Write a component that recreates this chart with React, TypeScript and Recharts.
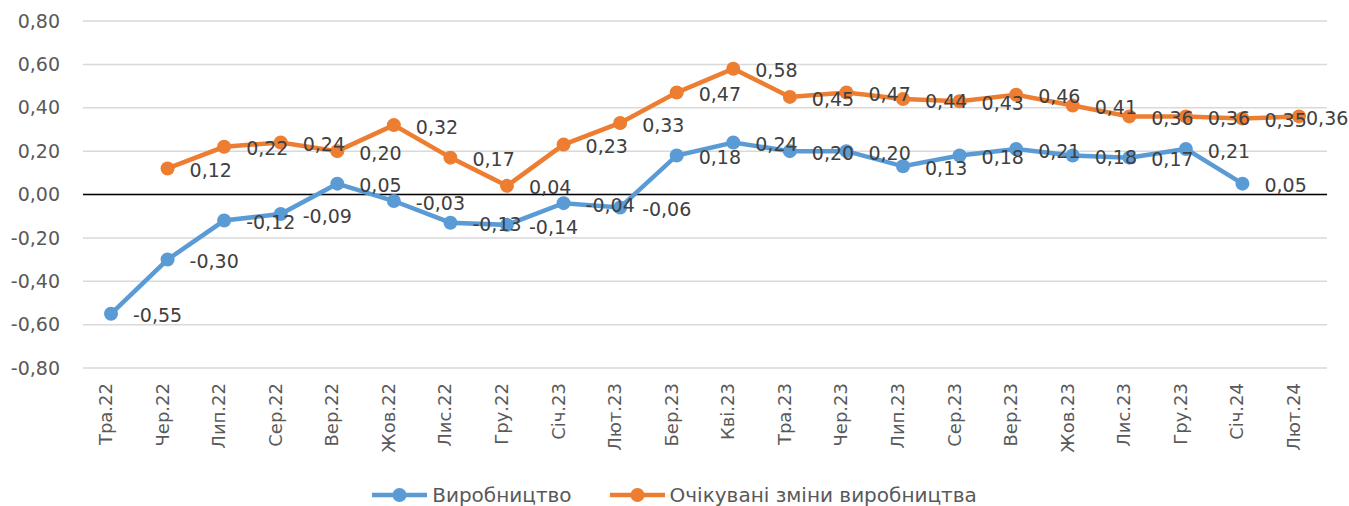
import React from "react";
import {
  CartesianGrid,
  LabelList,
  Line,
  LineChart,
  ReferenceLine,
  XAxis,
  YAxis,
} from "recharts";

const months = [
  "Тра.22", "Чер.22", "Лип.22", "Сер.22", "Вер.22", "Жов.22", "Лис.22", "Гру.22",
  "Січ.23", "Лют.23", "Бер.23", "Кві.23", "Тра.23", "Чер.23", "Лип.23", "Сер.23",
  "Вер.23", "Жов.23", "Лис.23", "Гру.23", "Січ.24", "Лют.24",
];

const production = [
  -0.55, -0.3, -0.12, -0.09, 0.05, -0.03, -0.13, -0.14, -0.04, -0.06, 0.18,
  0.24, 0.2, 0.2, 0.13, 0.18, 0.21, 0.18, 0.17, 0.21, 0.05, null,
];

const expected = [
  null, 0.12, 0.22, 0.24, 0.2, 0.32, 0.17, 0.04, 0.23, 0.33, 0.47,
  0.58, 0.45, 0.47, 0.44, 0.43, 0.46, 0.41, 0.36, 0.36, 0.35, 0.36,
];

const yTicks = [-0.8, -0.6, -0.4, -0.2, 0, 0.2, 0.4, 0.6, 0.8];

const BLUE = "#5B9BD5";
const ORANGE = "#ED7D31";
const FONT = "'DejaVu Sans', sans-serif";
const W = 1349;
const H = 506;

const data = months.map((m, i) => ({
  month: m,
  production: production[i],
  expected: expected[i],
}));

const fmt = (v: number) => v.toFixed(2).replace(".", ",");

function DataLabel(props: any) {
  const { value } = props;
  if (value === null || value === undefined) return null;
  const vb = props.viewBox || {};
  const px = Number(props.x ?? vb.x);
  const py = Number(props.y ?? vb.y);
  // keep the last label inside the picture, like Excel does
  const x = Math.min(px + 22, W - 43);
  return (
    <text
      x={x}
      y={py + 2}
      dy="0.35em"
      textAnchor="start"
      fontFamily={FONT}
      fontSize={19}
      fill="#404040"
    >
      {fmt(Number(value))}
    </text>
  );
}

function MonthTick({ x, y, payload }: any) {
  return (
    <text
      x={x}
      y={y + 7}
      dy={1}
      transform={`rotate(-90, ${x}, ${y + 7})`}
      textAnchor="end"
      fontFamily={FONT}
      fontSize={18}
      fill="#595959"
    >
      {payload.value}
    </text>
  );
}

function LegendItem({ color, label }: { color: string; label: string }) {
  return (
    <div style={{ display: "flex", alignItems: "center" }}>
      <svg width={55} height={20} style={{ marginRight: 5 }}>
        <line x1={0} y1={10} x2={55} y2={10} stroke={color} strokeWidth={4.5} />
        <circle cx={27.5} cy={10} r={7} fill={color} />
      </svg>
      <span>{label}</span>
    </div>
  );
}

export default function App() {
  return (
    <div
      style={{
        position: "absolute",
        left: 0,
        top: 0,
        width: W,
        height: H,
        background: "#fff",
      }}
    >
      <LineChart
        width={W}
        height={H}
        data={data}
        margin={{ top: 21, right: 22, left: 0, bottom: 21 }}
      >
        <CartesianGrid vertical={false} stroke="#d9d9d9" strokeWidth={1.5} />
        <XAxis
          dataKey="month"
          height={117}
          interval={0}
          padding={{ left: 28, right: 28 }}
          axisLine={false}
          tickLine={false}
          tick={<MonthTick />}
        />
        <YAxis
          width={83}
          domain={[-0.8, 0.8]}
          ticks={yTicks}
          axisLine={false}
          tickLine={false}
          tickMargin={17}
          tickFormatter={fmt}
          tick={{ fontFamily: FONT, fontSize: 19, fill: "#595959" }}
        />
        <ReferenceLine y={0} stroke="#000" strokeWidth={1.5} />
        <Line
          dataKey="production"
          name="Виробництво"
          stroke={BLUE}
          strokeWidth={4.5}
          dot={{ r: 7, fill: BLUE, stroke: BLUE, strokeWidth: 0 }}
          activeDot={false}
          isAnimationActive={false}
        >
          <LabelList dataKey="production" content={<DataLabel />} />
        </Line>
        <Line
          dataKey="expected"
          name="Очікувані зміни виробництва"
          stroke={ORANGE}
          strokeWidth={4.5}
          dot={{ r: 7, fill: ORANGE, stroke: ORANGE, strokeWidth: 0 }}
          activeDot={false}
          isAnimationActive={false}
        >
          <LabelList dataKey="expected" content={<DataLabel />} />
        </Line>
      </LineChart>
      <div
        style={{
          position: "absolute",
          left: 0,
          top: 483,
          width: W,
          display: "flex",
          justifyContent: "center",
          gap: 38,
          fontFamily: FONT,
          fontSize: 20,
          color: "#595959",
        }}
      >
        <LegendItem color={BLUE} label="Виробництво" />
        <LegendItem color={ORANGE} label="Очікувані зміни виробництва" />
      </div>
    </div>
  );
}
